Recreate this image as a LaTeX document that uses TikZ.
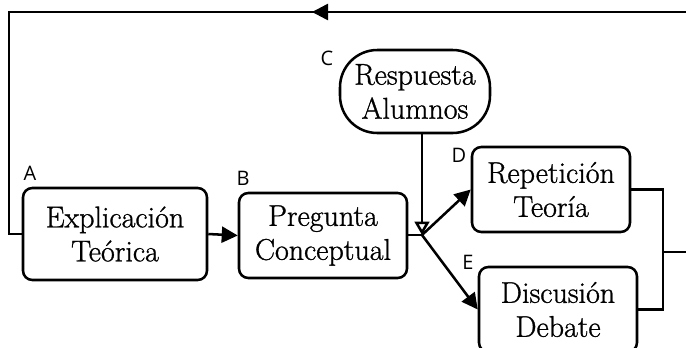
\documentclass[tikz,border=0pt]{standalone}
\usepackage{fontspec}
\newfontfamily\labfont{Open Sans}
\newfontfamily\stagefont{Latin Modern Roman}[FakeBold=1]
\usetikzlibrary{arrows.meta}
\begin{document}
\begin{tikzpicture}[x=0.75pt,y=-0.75pt,
  line width=1.9pt,
  stage/.style={draw, rounded corners=7pt, align=center, inner sep=0pt,
    font=\stagefont\fontsize{22.5}{25.5}\selectfont},
  tag/.style={font=\labfont\fontsize{15}{16}\selectfont, inner sep=0pt},
  head/.style={-{Triangle[length=12pt,width=12pt]}},
  openhead/.style={-{Triangle[open,fill=white,length=10pt,width=11pt]}}]
\useasboundingbox (0,0) rectangle (686,347);
\clip (0,0) rectangle (686,347);

% stages
\node[stage, minimum width=138pt, minimum height=69pt] (A) at (115,234)
  {Explicación\\Teórica};
\node[stage, minimum width=126pt, minimum height=63.75pt] (B) at (323,235.5)
  {Pregunta\\Conceptual};
\node[stage, rounded corners=28pt, minimum width=112.5pt, minimum height=62.25pt]
  (C) at (415,91.5) {Respuesta\\Alumnos};
\node[stage, minimum width=118.5pt, minimum height=63.75pt] (D) at (551,189.5)
  {Repetición\\Teoría};
\node[stage, minimum width=118.5pt, minimum height=63.75pt] (E) at (558,309.5)
  {Discusión\\Debate};

% letters
\node[tag] (tA) at (30,173) {A};
\node[tag] (tB) at (243,178) {B};
\node[tag] (tC) at (327,58) {C};
\node[tag] (tD) at (459,155) {D};
\node[tag] (tE) at (468,262) {E};

% junction points
\coordinate (J) at (422,235);
\coordinate (M) at (663,252);
\coordinate (TL) at (9,12);
\coordinate (TR) at (720,12);

% connectors
\draw[head] (A.east) -- (B.west);
\draw (B.east |- J) -- (J);
\draw[openhead] (C.south -| J) -- (J);
\draw[head] (J) -- (D.west);
\draw[head] (J) -- (E.west);
\draw (D.east) -| (M) |- (E.east);
\draw (M) -- (M -| TR) -- (TR) -- (TL) |- (A.west);
\draw[head] (TR) -- (312,12);
\end{tikzpicture}
\end{document}
